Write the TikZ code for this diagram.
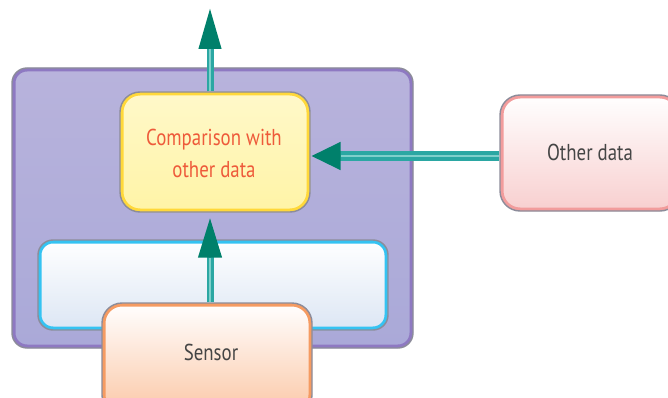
\documentclass[tikz,border=0pt]{standalone}
\usepackage{fontspec}
\setmainfont{PT Sans}
\newfontfamily\lblfont[FakeStretch=0.82]{PT Sans}
\usetikzlibrary{arrows.meta}
\definecolor{edgegray}{HTML}{8C8C9A}
\definecolor{outerfill}{HTML}{B8B3DC}
\definecolor{outerfillb}{HTML}{AAA9D8}
\definecolor{outerrim}{HTML}{8E79C2}
\definecolor{yelfill}{HTML}{FFF4A6}
\definecolor{yelrim}{HTML}{FFD83A}
\definecolor{bluefill}{HTML}{DCE6F4}
\definecolor{bluerim}{HTML}{35C3F2}
\definecolor{sensfill}{HTML}{FBC7A6}
\definecolor{sensrim}{HTML}{F59B62}
\definecolor{othfill}{HTML}{F8CFCF}
\definecolor{othrim}{HTML}{F29C9C}
\definecolor{shaft}{HTML}{2BA7A3}
\definecolor{shaftcore}{HTML}{7FCFCB}
\definecolor{headgreen}{HTML}{00806B}
\definecolor{redtext}{HTML}{EE5A3A}
\definecolor{graytext}{HTML}{454545}
\tikzset{
  basebox/.style={draw=edgegray, line width=1.4pt, inner sep=0pt, rounded corners=#1},
  rim/.style 2 args={path picture={\draw[draw=#1, line width=7pt, rounded corners=#2]
      (path picture bounding box.south west) rectangle (path picture bounding box.north east);}},
  lbl/.style={font=\lblfont\fontsize{23}{32}\selectfont, align=center, inner sep=0pt},
  flow/.style n args={3}{draw=shaft, line width=#1, -{Triangle[length=#2, width=#3, color=headgreen]}},
  flowcore/.style={draw=shaftcore, line width=2.4pt, shorten >=#1},
}
\begin{document}
\begin{tikzpicture}[x=1pt,y=-1pt]
\useasboundingbox (0,0) rectangle (668,398);
\clip (0,0) rectangle (668,398);
\fill[white] (0,0) rectangle (668,398);
% boxes
\node[basebox=15pt, rim={outerrim}{15pt}, top color=outerfill, bottom color=outerfillb,
      minimum width=401pt, minimum height=280pt] (outer) at (212.5,208) {};
\node[basebox=15pt, rim={bluerim}{15pt}, top color=white, bottom color=bluefill,
      minimum width=350pt, minimum height=90pt] (blue) at (213,285) {};
\node[basebox=20pt, rim={yelrim}{20pt}, top color=yelfill!60, bottom color=yelfill,
      minimum width=190pt, minimum height=120pt] (yellow) at (215,152) {};
\node[basebox=20pt, rim={othrim}{20pt}, top color=white, bottom color=othfill,
      minimum width=180pt, minimum height=116pt] (other) at (590,153) {};
\node[basebox=20pt, rim={sensrim}{20pt}, top color=white, bottom color=sensfill,
      minimum width=210pt, minimum height=112pt] (sensor) at (207,359) {};
% labels
\node[lbl, text=redtext] (cmp) at (214,153) {Comparison with\\other data};
\node[lbl, text=graytext] (othtext) at (590,152) {Other data};
\node[lbl, text=graytext] (senstext) at (211,352) {Sensor};
% helper coordinates
\coordinate (ax) at (210,0);
\coordinate (hy) at (0,156);
\coordinate (topend) at (210,7);
% arrows
\draw[flow={7pt}{42pt}{21pt}] (yellow.north -| ax) -- (topend);
\draw[flowcore=42pt] (yellow.north -| ax) -- (topend);
\draw[flow={10pt}{30pt}{26pt}] (other.west |- hy) -- (yellow.east |- hy);
\draw[flowcore=30pt] (other.west |- hy) -- (yellow.east |- hy);
\draw[flow={7pt}{41pt}{22pt}, shorten >=4pt] (sensor.north -| ax) -- (yellow.south -| ax);
\draw[flowcore=45pt] (sensor.north -| ax) -- (yellow.south -| ax);
\end{tikzpicture}
\end{document}
